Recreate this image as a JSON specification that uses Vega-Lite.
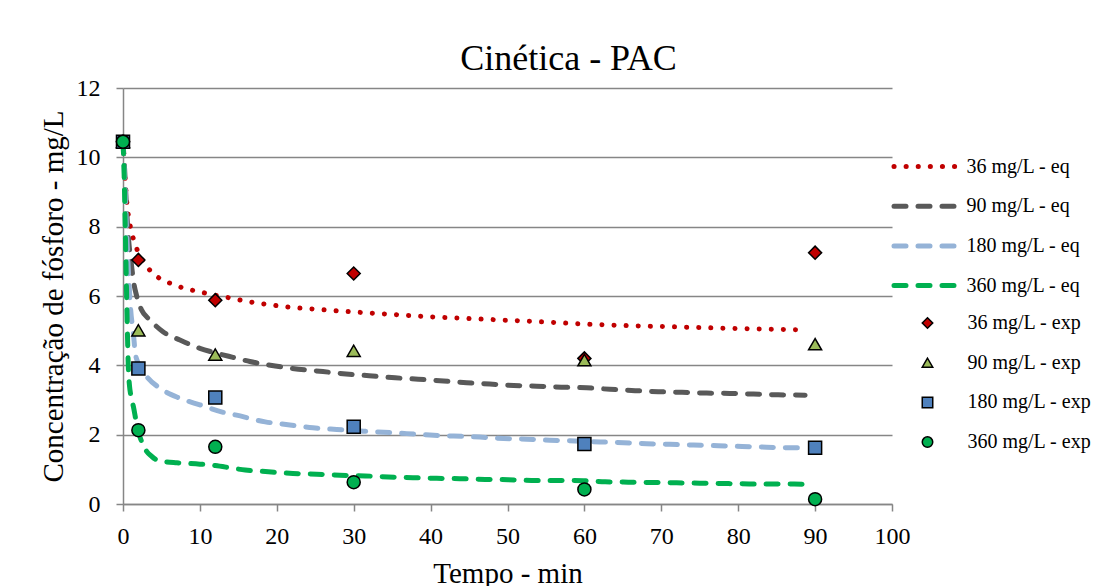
{
  "$schema": "https://vega.github.io/schema/vega-lite/v6.json",
  "width": 769,
  "height": 416,
  "autosize": {"type": "none"},
  "padding": {"left": 123, "top": 88, "right": 225, "bottom": 82},
  "background": "white",
  "title": {
    "text": "Cinética - PAC",
    "font": "Liberation Serif",
    "fontSize": 36,
    "fontWeight": "normal",
    "color": "black",
    "anchor": "middle",
    "frame": "group",
    "baseline": "alphabetic",
    "offset": -30,
    "dx": 61
  },
  "config": {
    "font": "Liberation Serif",
    "view": {"stroke": null},
    "axis": {
      "labelFont": "Liberation Serif",
      "labelFontSize": 24,
      "labelColor": "black",
      "labelFlush": false,
      "titleFont": "Liberation Serif",
      "titleFontSize": 29,
      "titleFontWeight": "normal",
      "titleColor": "black",
      "domainColor": "#868686",
      "domainWidth": 1.5,
      "tickColor": "#868686",
      "tickWidth": 1.5,
      "tickSize": 7,
      "gridColor": "#868686",
      "gridWidth": 1.5
    },
    "legend": {
      "labelFont": "Liberation Serif",
      "labelFontSize": 20,
      "labelColor": "black",
      "labelLimit": 300
    }
  },
  "datasets": {
    "eq": [
      {"serie": "36 mg/L - eq", "t": 0, "c": 10.45},
      {"serie": "36 mg/L - eq", "t": 0.15, "c": 9.9},
      {"serie": "36 mg/L - eq", "t": 0.3, "c": 9.3},
      {"serie": "36 mg/L - eq", "t": 0.5, "c": 8.7},
      {"serie": "36 mg/L - eq", "t": 0.75, "c": 8.25},
      {"serie": "36 mg/L - eq", "t": 1, "c": 7.95},
      {"serie": "36 mg/L - eq", "t": 1.35, "c": 7.65},
      {"serie": "36 mg/L - eq", "t": 2, "c": 7.25},
      {"serie": "36 mg/L - eq", "t": 3, "c": 6.88},
      {"serie": "36 mg/L - eq", "t": 4, "c": 6.63},
      {"serie": "36 mg/L - eq", "t": 5, "c": 6.48},
      {"serie": "36 mg/L - eq", "t": 6, "c": 6.38},
      {"serie": "36 mg/L - eq", "t": 8, "c": 6.22},
      {"serie": "36 mg/L - eq", "t": 10, "c": 6.12},
      {"serie": "36 mg/L - eq", "t": 12, "c": 6.02},
      {"serie": "36 mg/L - eq", "t": 14, "c": 5.94},
      {"serie": "36 mg/L - eq", "t": 16, "c": 5.85},
      {"serie": "36 mg/L - eq", "t": 18, "c": 5.78},
      {"serie": "36 mg/L - eq", "t": 20, "c": 5.72},
      {"serie": "36 mg/L - eq", "t": 22, "c": 5.67},
      {"serie": "36 mg/L - eq", "t": 25, "c": 5.62},
      {"serie": "36 mg/L - eq", "t": 28, "c": 5.57},
      {"serie": "36 mg/L - eq", "t": 30, "c": 5.54},
      {"serie": "36 mg/L - eq", "t": 35, "c": 5.47},
      {"serie": "36 mg/L - eq", "t": 40, "c": 5.40},
      {"serie": "36 mg/L - eq", "t": 45, "c": 5.35},
      {"serie": "36 mg/L - eq", "t": 50, "c": 5.30},
      {"serie": "36 mg/L - eq", "t": 55, "c": 5.25},
      {"serie": "36 mg/L - eq", "t": 60, "c": 5.19},
      {"serie": "36 mg/L - eq", "t": 65, "c": 5.15},
      {"serie": "36 mg/L - eq", "t": 70, "c": 5.12},
      {"serie": "36 mg/L - eq", "t": 75, "c": 5.09},
      {"serie": "36 mg/L - eq", "t": 80, "c": 5.06},
      {"serie": "36 mg/L - eq", "t": 85, "c": 5.04},
      {"serie": "36 mg/L - eq", "t": 89, "c": 5.02},

      {"serie": "90 mg/L - eq", "t": 0, "c": 10.45},
      {"serie": "90 mg/L - eq", "t": 0.2, "c": 9.7},
      {"serie": "90 mg/L - eq", "t": 0.4, "c": 8.8},
      {"serie": "90 mg/L - eq", "t": 0.6, "c": 8.0},
      {"serie": "90 mg/L - eq", "t": 0.8, "c": 7.45},
      {"serie": "90 mg/L - eq", "t": 1, "c": 7.1},
      {"serie": "90 mg/L - eq", "t": 1.15, "c": 6.8},
      {"serie": "90 mg/L - eq", "t": 1.35, "c": 6.45},
      {"serie": "90 mg/L - eq", "t": 1.8, "c": 5.98},
      {"serie": "90 mg/L - eq", "t": 2.4, "c": 5.6},
      {"serie": "90 mg/L - eq", "t": 3.5, "c": 5.31},
      {"serie": "90 mg/L - eq", "t": 5.2, "c": 4.97},
      {"serie": "90 mg/L - eq", "t": 7.4, "c": 4.73},
      {"serie": "90 mg/L - eq", "t": 10, "c": 4.49},
      {"serie": "90 mg/L - eq", "t": 12, "c": 4.36},
      {"serie": "90 mg/L - eq", "t": 14.3, "c": 4.23},
      {"serie": "90 mg/L - eq", "t": 16.5, "c": 4.11},
      {"serie": "90 mg/L - eq", "t": 19.8, "c": 3.98},
      {"serie": "90 mg/L - eq", "t": 22.8, "c": 3.89},
      {"serie": "90 mg/L - eq", "t": 26, "c": 3.82},
      {"serie": "90 mg/L - eq", "t": 29, "c": 3.75},
      {"serie": "90 mg/L - eq", "t": 32, "c": 3.70},
      {"serie": "90 mg/L - eq", "t": 35.4, "c": 3.64},
      {"serie": "90 mg/L - eq", "t": 38.4, "c": 3.60},
      {"serie": "90 mg/L - eq", "t": 41.7, "c": 3.55},
      {"serie": "90 mg/L - eq", "t": 44.7, "c": 3.50},
      {"serie": "90 mg/L - eq", "t": 47.7, "c": 3.46},
      {"serie": "90 mg/L - eq", "t": 50.8, "c": 3.42},
      {"serie": "90 mg/L - eq", "t": 53.8, "c": 3.40},
      {"serie": "90 mg/L - eq", "t": 57, "c": 3.37},
      {"serie": "90 mg/L - eq", "t": 60.3, "c": 3.35},
      {"serie": "90 mg/L - eq", "t": 63.3, "c": 3.31},
      {"serie": "90 mg/L - eq", "t": 66.6, "c": 3.27},
      {"serie": "90 mg/L - eq", "t": 69.6, "c": 3.24},
      {"serie": "90 mg/L - eq", "t": 72.7, "c": 3.22},
      {"serie": "90 mg/L - eq", "t": 75.9, "c": 3.20},
      {"serie": "90 mg/L - eq", "t": 78.9, "c": 3.19},
      {"serie": "90 mg/L - eq", "t": 82, "c": 3.17},
      {"serie": "90 mg/L - eq", "t": 85.2, "c": 3.15},
      {"serie": "90 mg/L - eq", "t": 88.7, "c": 3.14},

      {"serie": "180 mg/L - eq", "t": 0, "c": 10.45},
      {"serie": "180 mg/L - eq", "t": 0.2, "c": 9.5},
      {"serie": "180 mg/L - eq", "t": 0.4, "c": 8.3},
      {"serie": "180 mg/L - eq", "t": 0.6, "c": 7.2},
      {"serie": "180 mg/L - eq", "t": 0.8, "c": 6.3},
      {"serie": "180 mg/L - eq", "t": 1, "c": 5.6},
      {"serie": "180 mg/L - eq", "t": 1.35, "c": 4.92},
      {"serie": "180 mg/L - eq", "t": 1.6, "c": 4.35},
      {"serie": "180 mg/L - eq", "t": 2, "c": 4.05},
      {"serie": "180 mg/L - eq", "t": 3.1, "c": 3.67},
      {"serie": "180 mg/L - eq", "t": 4.8, "c": 3.34},
      {"serie": "180 mg/L - eq", "t": 7.4, "c": 3.05},
      {"serie": "180 mg/L - eq", "t": 10, "c": 2.86},
      {"serie": "180 mg/L - eq", "t": 13.5, "c": 2.62},
      {"serie": "180 mg/L - eq", "t": 14.6, "c": 2.57},
      {"serie": "180 mg/L - eq", "t": 18.5, "c": 2.37},
      {"serie": "180 mg/L - eq", "t": 21.7, "c": 2.28},
      {"serie": "180 mg/L - eq", "t": 24.7, "c": 2.20},
      {"serie": "180 mg/L - eq", "t": 27.8, "c": 2.15},
      {"serie": "180 mg/L - eq", "t": 31.3, "c": 2.10},
      {"serie": "180 mg/L - eq", "t": 33.9, "c": 2.07},
      {"serie": "180 mg/L - eq", "t": 36.9, "c": 2.03},
      {"serie": "180 mg/L - eq", "t": 39.9, "c": 1.99},
      {"serie": "180 mg/L - eq", "t": 43, "c": 1.96},
      {"serie": "180 mg/L - eq", "t": 46.4, "c": 1.93},
      {"serie": "180 mg/L - eq", "t": 49.5, "c": 1.89},
      {"serie": "180 mg/L - eq", "t": 52.5, "c": 1.87},
      {"serie": "180 mg/L - eq", "t": 55.5, "c": 1.84},
      {"serie": "180 mg/L - eq", "t": 58.8, "c": 1.82},
      {"serie": "180 mg/L - eq", "t": 62, "c": 1.79},
      {"serie": "180 mg/L - eq", "t": 65.1, "c": 1.77},
      {"serie": "180 mg/L - eq", "t": 68.1, "c": 1.74},
      {"serie": "180 mg/L - eq", "t": 71.1, "c": 1.72},
      {"serie": "180 mg/L - eq", "t": 74.2, "c": 1.70},
      {"serie": "180 mg/L - eq", "t": 77.4, "c": 1.68},
      {"serie": "180 mg/L - eq", "t": 80.5, "c": 1.66},
      {"serie": "180 mg/L - eq", "t": 83.7, "c": 1.64},
      {"serie": "180 mg/L - eq", "t": 86.7, "c": 1.62},
      {"serie": "180 mg/L - eq", "t": 88.7, "c": 1.62},

      {"serie": "360 mg/L - eq", "t": 0, "c": 10.45},
      {"serie": "360 mg/L - eq", "t": 0.1, "c": 9.9},
      {"serie": "360 mg/L - eq", "t": 0.2, "c": 9.0},
      {"serie": "360 mg/L - eq", "t": 0.3, "c": 7.9},
      {"serie": "360 mg/L - eq", "t": 0.4, "c": 6.8},
      {"serie": "360 mg/L - eq", "t": 0.5, "c": 5.7},
      {"serie": "360 mg/L - eq", "t": 0.6, "c": 4.7},
      {"serie": "360 mg/L - eq", "t": 0.7, "c": 3.9},
      {"serie": "360 mg/L - eq", "t": 0.85, "c": 3.4},
      {"serie": "360 mg/L - eq", "t": 1, "c": 3.15},
      {"serie": "360 mg/L - eq", "t": 1.35, "c": 2.81},
      {"serie": "360 mg/L - eq", "t": 1.7, "c": 2.4},
      {"serie": "360 mg/L - eq", "t": 2.2, "c": 1.94},
      {"serie": "360 mg/L - eq", "t": 2.6, "c": 1.72},
      {"serie": "360 mg/L - eq", "t": 3.1, "c": 1.51},
      {"serie": "360 mg/L - eq", "t": 3.7, "c": 1.38},
      {"serie": "360 mg/L - eq", "t": 4.4, "c": 1.27},
      {"serie": "360 mg/L - eq", "t": 5.5, "c": 1.22},
      {"serie": "360 mg/L - eq", "t": 7, "c": 1.19},
      {"serie": "360 mg/L - eq", "t": 10, "c": 1.15},
      {"serie": "360 mg/L - eq", "t": 12, "c": 1.11},
      {"serie": "360 mg/L - eq", "t": 14.3, "c": 1.03},
      {"serie": "360 mg/L - eq", "t": 15.9, "c": 0.98},
      {"serie": "360 mg/L - eq", "t": 18.9, "c": 0.93},
      {"serie": "360 mg/L - eq", "t": 22.1, "c": 0.88},
      {"serie": "360 mg/L - eq", "t": 25.2, "c": 0.86},
      {"serie": "360 mg/L - eq", "t": 28.2, "c": 0.83},
      {"serie": "360 mg/L - eq", "t": 31.5, "c": 0.81},
      {"serie": "360 mg/L - eq", "t": 34.5, "c": 0.78},
      {"serie": "360 mg/L - eq", "t": 37.7, "c": 0.76},
      {"serie": "360 mg/L - eq", "t": 40.8, "c": 0.74},
      {"serie": "360 mg/L - eq", "t": 43.8, "c": 0.73},
      {"serie": "360 mg/L - eq", "t": 47.1, "c": 0.71},
      {"serie": "360 mg/L - eq", "t": 50.1, "c": 0.70},
      {"serie": "360 mg/L - eq", "t": 53.1, "c": 0.68},
      {"serie": "360 mg/L - eq", "t": 56.3, "c": 0.68},
      {"serie": "360 mg/L - eq", "t": 59.9, "c": 0.67},
      {"serie": "360 mg/L - eq", "t": 62.7, "c": 0.64},
      {"serie": "360 mg/L - eq", "t": 65.7, "c": 0.63},
      {"serie": "360 mg/L - eq", "t": 69, "c": 0.62},
      {"serie": "360 mg/L - eq", "t": 72, "c": 0.61},
      {"serie": "360 mg/L - eq", "t": 75, "c": 0.60},
      {"serie": "360 mg/L - eq", "t": 78.3, "c": 0.59},
      {"serie": "360 mg/L - eq", "t": 81.5, "c": 0.58},
      {"serie": "360 mg/L - eq", "t": 84.4, "c": 0.58},
      {"serie": "360 mg/L - eq", "t": 88.7, "c": 0.57}
    ],
    "exp": [
      {"serie": "36 mg/L - exp", "t": 0, "c": 10.45},
      {"serie": "36 mg/L - exp", "t": 2, "c": 7.04},
      {"serie": "36 mg/L - exp", "t": 12, "c": 5.88},
      {"serie": "36 mg/L - exp", "t": 30, "c": 6.65},
      {"serie": "36 mg/L - exp", "t": 60, "c": 4.2},
      {"serie": "36 mg/L - exp", "t": 90, "c": 7.25},
      {"serie": "90 mg/L - exp", "t": 0, "c": 10.45},
      {"serie": "90 mg/L - exp", "t": 2, "c": 5.01},
      {"serie": "90 mg/L - exp", "t": 12, "c": 4.31},
      {"serie": "90 mg/L - exp", "t": 30, "c": 4.42},
      {"serie": "90 mg/L - exp", "t": 60, "c": 4.15},
      {"serie": "90 mg/L - exp", "t": 90, "c": 4.61},
      {"serie": "180 mg/L - exp", "t": 0, "c": 10.45},
      {"serie": "180 mg/L - exp", "t": 2, "c": 3.91},
      {"serie": "180 mg/L - exp", "t": 12, "c": 3.07},
      {"serie": "180 mg/L - exp", "t": 30, "c": 2.23},
      {"serie": "180 mg/L - exp", "t": 60, "c": 1.73},
      {"serie": "180 mg/L - exp", "t": 90, "c": 1.62},
      {"serie": "360 mg/L - exp", "t": 0, "c": 10.45},
      {"serie": "360 mg/L - exp", "t": 2, "c": 2.13},
      {"serie": "360 mg/L - exp", "t": 12, "c": 1.65},
      {"serie": "360 mg/L - exp", "t": 30, "c": 0.63},
      {"serie": "360 mg/L - exp", "t": 60, "c": 0.42},
      {"serie": "360 mg/L - exp", "t": 90, "c": 0.14}
    ]
  },
  "encoding": {
    "x": {
      "field": "t",
      "type": "quantitative",
      "scale": {"domain": [0, 100], "nice": false, "zero": false},
      "axis": {
        "title": "Tempo - min",
        "values": [0, 10, 20, 30, 40, 50, 60, 70, 80, 90, 100],
        "grid": false,
        "labelFlush": false,
        "labelPadding": 13,
        "titlePadding": 11
      }
    },
    "y": {
      "field": "c",
      "type": "quantitative",
      "scale": {"domain": [0, 12], "nice": false},
      "axis": {
        "title": "Concentração de fósforo - mg/L",
        "values": [0, 2, 4, 6, 8, 10, 12],
        "grid": true,
        "labelFlush": false,
        "labelPadding": 16,
        "titlePadding": 8
      }
    }
  },
  "layer": [
    {
      "data": {"name": "eq"},
      "mark": {"type": "line", "strokeCap": "round", "strokeWidth": 5, "interpolate": "monotone", "clip": false},
      "encoding": {
        "stroke": {
          "field": "serie",
          "type": "nominal",
          "scale": {
            "domain": ["36 mg/L - eq", "90 mg/L - eq", "180 mg/L - eq", "360 mg/L - eq"],
            "range": ["#C00000", "#595959", "#95B3D7", "#00B050"]
          },
          "legend": {
            "title": null,
            "orient": "none",
            "legendX": 793.5,
            "legendY": 68.5,
            "padding": 0,
            "symbolType": "M-6.5,0H6.5",
            "symbolSize": 100,
            "symbolStrokeWidth": 5,
            "symbolFillColor": "transparent",
            "labelOffset": 30,
            "rowPadding": 19.7,
            "encode": {"symbols": {"update": {"strokeCap": {"value": "round"}, "fill": {"value": "transparent"}}}}
          }
        },
        "strokeDash": {
          "field": "serie",
          "type": "nominal",
          "scale": {
            "domain": ["36 mg/L - eq", "90 mg/L - eq", "180 mg/L - eq", "360 mg/L - eq"],
            "range": [[0.1, 12], [12, 12], [12, 12], [12, 12]]
          }
        }
      }
    },
    {
      "data": {"name": "exp"},
      "mark": {"type": "point", "filled": true, "stroke": "black", "strokeWidth": 1.5, "size": 170, "opacity": 1, "clip": false},
      "encoding": {
        "fill": {
          "field": "serie",
          "type": "nominal",
          "scale": {
            "domain": ["36 mg/L - exp", "90 mg/L - exp", "180 mg/L - exp", "360 mg/L - exp"],
            "range": ["#C00000", "#9BBB59", "#4F81BD", "#00B050"]
          },
          "legend": {
            "title": null,
            "orient": "none",
            "legendX": 794.5,
            "legendY": 225,
            "padding": 0,
            "symbolSize": 110,
            "symbolStrokeColor": "black",
            "symbolStrokeWidth": 1.5,
            "labelOffset": 30,
            "rowPadding": 19.7
          }
        },
        "shape": {
          "field": "serie",
          "type": "nominal",
          "scale": {
            "domain": ["36 mg/L - exp", "90 mg/L - exp", "180 mg/L - exp", "360 mg/L - exp"],
            "range": ["diamond", "triangle-up", "square", "circle"]
          }
        }
      }
    }
  ]
}
